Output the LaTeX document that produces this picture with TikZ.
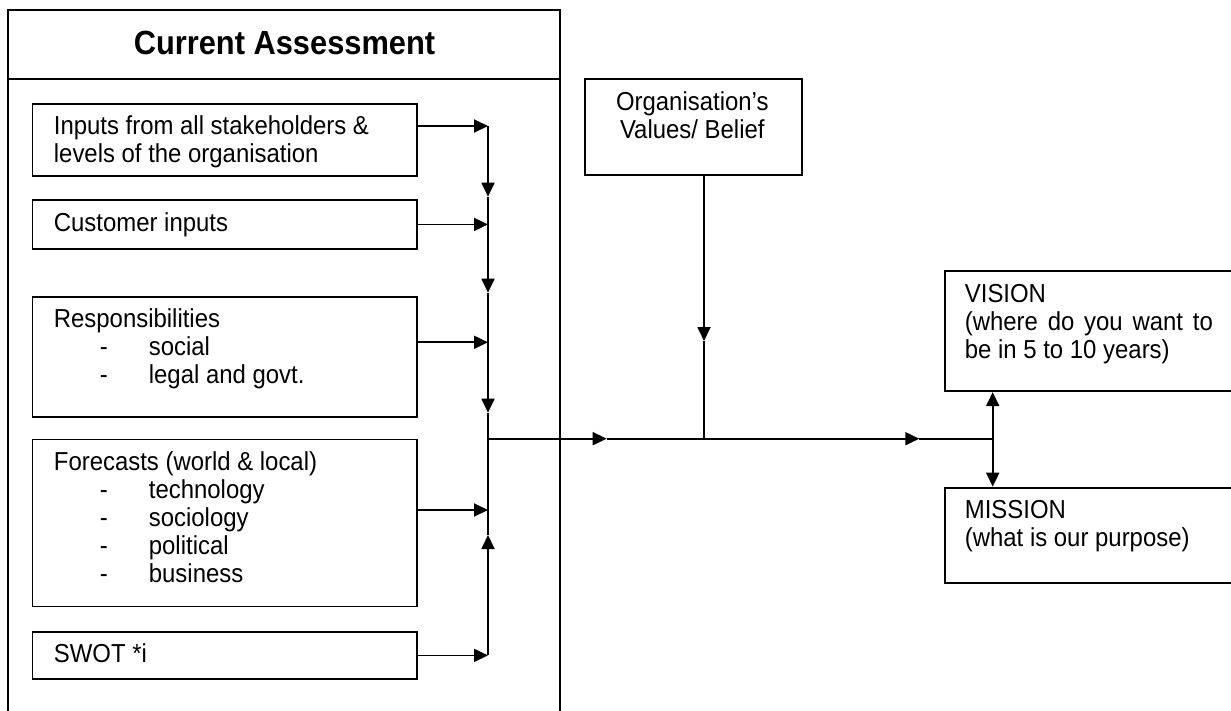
\documentclass[tikz,border=0pt]{standalone}
\usepackage{fontspec}
\setmainfont[FakeStretch=0.92]{Liberation Sans}
\usetikzlibrary{arrows.meta}
\begin{document}
\begin{tikzpicture}[x=1pt,y=-1pt,line width=1.8pt,
  box/.style={draw,rectangle,inner sep=0pt,anchor=north west},
  txt/.style={inner sep=0pt,anchor=base west,font=\fontsize{26}{28}\selectfont},
  ctxt/.style={inner sep=0pt,anchor=base,font=\fontsize{26}{28}\selectfont},
  ttl/.style={inner sep=0pt,anchor=base,font=\fontsize{33.5}{38}\selectfont\bfseries},
  arr/.style={-{Triangle[length=14pt,width=13pt]}}]
\useasboundingbox (0,0) rectangle (1231,711);
\begin{scope}
\clip (0,0) rectangle (1231,711);
% outer frame
\draw (8,725) -- (8,10) -- (560,10) -- (560,725);
\draw (8,79) -- (560,79);
\node[ttl] (title) at (284.5,55) {Current Assessment};
% left boxes
\node[box,minimum width=384.6pt,minimum height=72.5pt] (inputs) at (31.6,103) {};
\node[box,minimum width=384.6pt,minimum height=48.5pt] (customer) at (31.6,199.3) {};
\node[box,minimum width=384.6pt,minimum height=120pt] (resp) at (31.6,295.7) {};
\node[box,minimum width=384.6pt,minimum height=167pt] (fore) at (31.6,438.6) {};
\node[box,minimum width=384.6pt,minimum height=47.6pt] (swot) at (31.6,630.7) {};
% right boxes
\node[box,minimum width=216.7pt,minimum height=96pt] (org) at (584,78.3) {};
\node[box,minimum width=300pt,minimum height=119.8pt] (vision) at (944,270.5) {};
\node[box,minimum width=300pt,minimum height=95.5pt] (mission) at (944,486.7) {};
\end{scope}
% texts
\node[txt] (t1) at (53,135) {Inputs from all stakeholders \&};
\node[txt] (t2) at (53,163) {levels of the organisation};
\node[txt] (t3) at (53,231.5) {Customer inputs};
\node[txt] (t4) at (53,327.5) {Responsibilities};
\node[txt] (t5) at (99,355.4) {\makebox[49pt][l]{-}social};
\node[txt] (t6) at (99,383.3) {\makebox[49pt][l]{-}legal and govt.};
\node[txt] (t7) at (53,470.5) {Forecasts (world \& local)};
\node[txt] (t8) at (99,498.4) {\makebox[49pt][l]{-}technology};
\node[txt] (t9) at (99,526.3) {\makebox[49pt][l]{-}sociology};
\node[txt] (t10) at (99,554.2) {\makebox[49pt][l]{-}political};
\node[txt] (t11) at (99,582.1) {\makebox[49pt][l]{-}business};
\node[txt] (t12) at (53,662.7) {SWOT *i};
\node[ctxt] (t13) at (692.3,111) {Organisation’s};
\node[ctxt] (t14) at (692.3,138.5) {Values/ Belief};
\node[txt] (t15) at (964,302.5) {VISION};
\node[txt] (t16) at (964,330.4) {\makebox[248pt][s]{(where do you want to}};
\node[txt] (t17) at (964,358.3) {be in 5 to 10 years)};
\node[txt] (t18) at (964,518.5) {MISSION};
\node[txt] (t19) at (964,546.4) {(what is our purpose)};
% connector points
\coordinate (c1) at (488,126);
\coordinate (c3) at (488,342.3);
\coordinate (c4) at (488,510);
\coordinate (d1) at (488,196.7);
\coordinate (d2) at (488,292.7);
\coordinate (d3) at (488,412.7);
\coordinate (u1) at (488,535);
\coordinate (J) at (488,438.7);
\coordinate (m1) at (606.7,438.7);
\coordinate (m2) at (919.3,438.7);
\coordinate (K) at (992.7,438.7);
\coordinate (o1) at (704,341);
\coordinate (oJ) at (704,438.7);
% inputs to collector
\draw[arr] (inputs.east |- c1) -- (c1);
\draw[arr] (customer.east) -- (customer.east -| c1);
\draw[arr] (resp.east |- c3) -- (c3);
\draw[arr] (fore.east |- c4) -- (c4);
\draw[arr] (swot.east) -- (swot.east -| c1);
% collector
\draw[arr] (c1) -- (d1);
\draw[arr] (d1) -- (d2);
\draw[arr] (d2) -- (d3);
\draw (d3) -- (J);
\draw[arr] (swot.east -| c1) -- (u1);
\draw (u1) -- (J);
% main line
\draw[arr] (J) -- (m1);
\draw[arr] (m1) -- (m2);
\draw (m2) -- (K);
% values
\draw[arr] (o1 |- org.south) -- (o1);
\draw (o1) -- (oJ);
% vision / mission
\draw[arr] (K) -- (vision.south -| K);
\draw[arr] (K) -- (mission.north -| K);
\end{tikzpicture}
\end{document}
